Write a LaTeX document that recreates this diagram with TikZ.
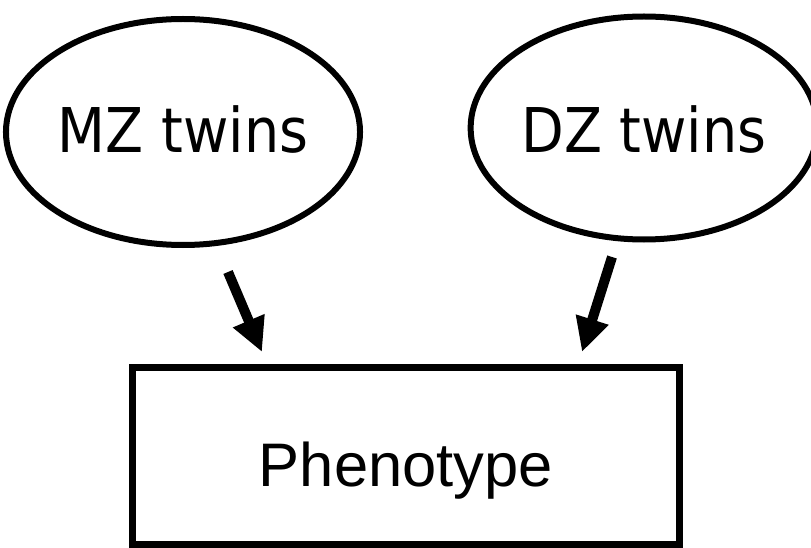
\documentclass[tikz,border=0pt]{standalone}
\usepackage{fontspec}
\setmainfont{Liberation Sans}
\newfontfamily\twinfont[FakeStretch=0.9]{DejaVu Sans}
\usetikzlibrary{shapes.geometric,arrows.meta}
\begin{document}
\begin{tikzpicture}[x=1pt,y=-1pt,
  twin/.style={ellipse,draw,line width=6pt,inner sep=0pt,text depth=0pt,
    font=\twinfont\fontsize{61.7}{70}\selectfont},
  box/.style={rectangle,draw,line width=7pt,inner sep=0pt,
    font=\fontsize{61.5}{70}\selectfont},
  arr/.style={line width=10pt,-{Triangle[width=32pt,length=34pt]}}]
\useasboundingbox[fill=white] (0,0) rectangle (811,548);
\node[twin,minimum width=324pt,minimum height=226pt,text height=42pt] (mz) at (183,132) {MZ twins};
\node[twin,minimum width=316pt,minimum height=223pt,text height=50pt] (dz) at (644,128) {DZ twins};
\node[box,minimum width=547pt,minimum height=177.5pt,text height=60pt,text depth=0pt] (ph) at (406,456) {Phenotype};
\coordinate (a1) at (228,272);
\coordinate (b1) at (262,352);
\coordinate (a2) at (612,257);
\coordinate (b2) at (582,352);
\draw[arr] (a1) -- (b1);
\draw[arr] (a2) -- (b2);
\end{tikzpicture}
\end{document}
